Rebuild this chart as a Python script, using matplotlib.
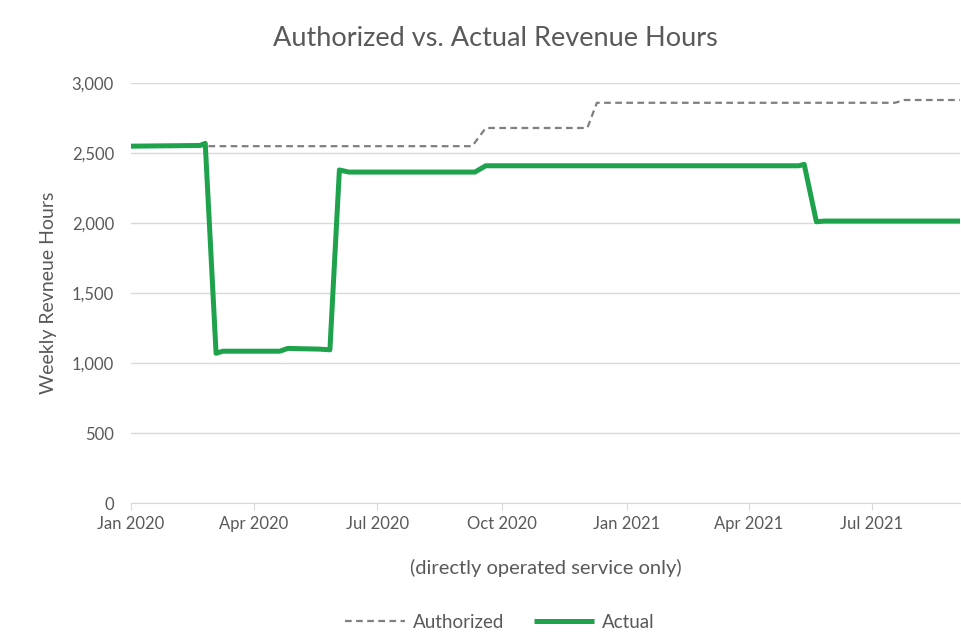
import matplotlib.pyplot as plt
import matplotlib.dates as mdates
import numpy as np

plt.rcParams['font.family'] = ['Lato', 'DejaVu Sans']

# weekly revenue hours
auth_dates = ["2020-01-01", "2020-02-25", "2020-09-09", "2020-09-19", "2020-12-03",
              "2020-12-10", "2021-07-18", "2021-07-25", "2021-09-04"]
auth_vals = [2550, 2550, 2550, 2680, 2680, 2860, 2860, 2880, 2880]

act_dates = ["2020-01-01", "2020-02-21", "2020-02-25", "2020-03-04", "2020-03-09",
             "2020-04-20", "2020-04-26", "2020-05-19", "2020-05-27", "2020-06-03",
             "2020-06-10", "2020-09-11", "2020-09-19", "2021-05-08", "2021-05-12",
             "2021-05-21", "2021-05-27", "2021-09-04"]
act_vals = [2550, 2555, 2570, 1070, 1085, 1085, 1105, 1100, 1095, 2380,
            2365, 2365, 2410, 2410, 2420, 2010, 2015, 2015]

auth_x = np.array(auth_dates, dtype="datetime64[D]")
act_x = np.array(act_dates, dtype="datetime64[D]")

grey = "#595959"
fig = plt.figure(figsize=(9.61, 6.4), dpi=100)
ax = fig.add_axes([0.136, 0.214, 0.863, 0.656])

ax.plot(auth_x, auth_vals, color="#7f7f7f", lw=1.6, ls=(0, (3, 2)), label="Authorized")
ax.plot(act_x, act_vals, color="#1ea24c", lw=3.6, label="Actual",
        solid_joinstyle="round", solid_capstyle="butt")

ax.set_ylim(0, 3000)
ax.set_xlim(np.datetime64("2020-01-01"), np.datetime64("2021-09-04"))
ax.set_yticks(range(0, 3001, 500))
ax.yaxis.set_major_formatter(plt.FuncFormatter(lambda v, p: f"{int(v):,}"))
ax.xaxis.set_major_locator(mdates.MonthLocator(bymonth=[1, 4, 7, 10]))
ax.xaxis.set_major_formatter(mdates.DateFormatter("%b %Y"))

ax.grid(axis="y", color="#d9d9d9", lw=1)
ax.set_axisbelow(True)
for s in ["top", "right", "left"]:
    ax.spines[s].set_visible(False)
ax.spines["bottom"].set_color("#d9d9d9")
ax.tick_params(axis="y", length=0, colors=grey, labelsize=12, pad=12)
ax.tick_params(axis="x", length=5, color="#d9d9d9", colors=grey, labelsize=12, pad=4)

fig.text(0.515, 0.94, "Authorized vs. Actual Revenue Hours", color=grey,
         fontsize=19.5, ha="center", va="center")
ax.set_ylabel("Weekly Revneue Hours", color=grey, fontsize=14, labelpad=11)
ax.set_xlabel("(directly operated service only)", color=grey, fontsize=14.5, labelpad=20)

fig.legend(loc="center", bbox_to_anchor=(0.52, 0.028), ncol=2, frameon=False,
           fontsize=13.5, labelcolor=grey, handlelength=3.2, handletextpad=0.4,
           columnspacing=1.6)

fig.savefig("out.png", dpi=100)
